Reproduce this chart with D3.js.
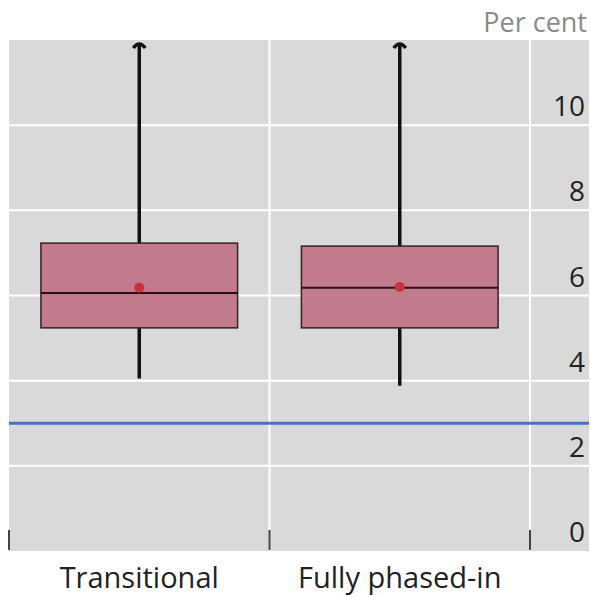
<!DOCTYPE html>
<html><head><meta charset="utf-8">
<script src="https://cdn.jsdelivr.net/npm/d3@7"></script>
<style>body{margin:0;background:#fff}svg{display:block}</style>
</head><body>
<script>
const categories = ["Transitional", "Fully phased-in"];
const q1 = [5.24, 5.24];
const median = [6.06, 6.18];
const q3 = [7.23, 7.16];
const mean = [6.18, 6.2];
const whiskerLow = [4.05, 3.88];
const whiskerHigh = [12, 12];
const refLine = 3.0;
const yTicks = [0, 2, 4, 6, 8, 10];
const yDomain = [0, 12];
const unitLabel = "Per cent";

const W = 591, H = 597;
const panel = {left: 9, right: 589, top: 40, bottom: 551};
const plotRight = 530;

const svg = d3.select("body").append("svg").attr("width", W).attr("height", H);
const font = "'Open Sans', 'Noto Sans', sans-serif";

const y = d3.scaleLinear().domain(yDomain).range([panel.bottom, panel.top]);
const x = d3.scaleBand().domain(categories).range([panel.left, plotRight]).paddingInner(0).paddingOuter(0);
const boxFrac = 0.755;

svg.append("rect").attr("x", panel.left).attr("y", panel.top)
  .attr("width", panel.right - panel.left).attr("height", panel.bottom - panel.top)
  .attr("fill", "#d9d9d9");

// horizontal gridlines
svg.append("g").selectAll("line").data(yTicks.filter(d => d > 0)).join("line")
  .attr("x1", panel.left).attr("x2", panel.right)
  .attr("y1", d => y(d)).attr("y2", d => y(d))
  .attr("stroke", "#fff").attr("stroke-width", 2);

// vertical gridlines (category boundaries)
const vlines = [x(categories[1]), plotRight];
svg.append("g").selectAll("line").data(vlines).join("line")
  .attr("x1", d => d).attr("x2", d => d)
  .attr("y1", panel.top).attr("y2", panel.bottom)
  .attr("stroke", "#fff").attr("stroke-width", 2);

// bottom ticks
const tickXs = [panel.left, x(categories[1]), plotRight];
svg.append("g").selectAll("line").data(tickXs).join("line")
  .attr("x1", d => d).attr("x2", d => d)
  .attr("y1", panel.bottom - 21).attr("y2", panel.bottom - 1)
  .attr("stroke", "#444").attr("stroke-width", 2);

// y labels
svg.append("g").selectAll("text").data(yTicks).join("text")
  .attr("x", 585).attr("y", d => y(d) - 9)
  .attr("text-anchor", "end").attr("font-family", font).attr("font-size", 28)
  .attr("fill", "#222").text(d => d);

svg.append("text").attr("x", 587).attr("y", 32).attr("text-anchor", "end")
  .attr("font-family", font).attr("font-size", 27).attr("fill", "#8a8a8a").text(unitLabel);

// reference line
svg.append("line").attr("x1", panel.left).attr("x2", panel.right)
  .attr("y1", y(refLine)).attr("y2", y(refLine))
  .attr("stroke", "#4472c4").attr("stroke-width", 3);

// boxes
categories.forEach((c, i) => {
  const cx = x(c) + x.bandwidth() / 2;
  const bw = x.bandwidth() * boxFrac;
  const g = svg.append("g");
  const topY = Math.max(y(whiskerHigh[i]), panel.top) + 3;
  g.append("line").attr("x1", cx).attr("x2", cx)
    .attr("y1", y(whiskerLow[i])).attr("y2", topY)
    .attr("stroke", "#111").attr("stroke-width", 3.5);
  g.append("path")
    .attr("d", `M${cx - 6},${topY + 5} Q${cx},${topY - 3} ${cx + 6},${topY + 5}`)
    .attr("fill", "none").attr("stroke", "#111").attr("stroke-width", 3.5);
  g.append("rect").attr("x", cx - bw / 2).attr("y", y(q3[i]))
    .attr("width", bw).attr("height", y(q1[i]) - y(q3[i]))
    .attr("fill", "#c27b8c").attr("stroke", "#3a1f25").attr("stroke-width", 1.5);
  g.append("line").attr("x1", cx - bw / 2).attr("x2", cx + bw / 2)
    .attr("y1", y(median[i])).attr("y2", y(median[i]))
    .attr("stroke", "#2a1015").attr("stroke-width", 2);
  g.append("circle").attr("cx", cx).attr("cy", y(mean[i])).attr("r", 5)
    .attr("fill", "#c8323f");
});

// category labels
svg.append("g").selectAll("text").data(categories).join("text")
  .attr("x", d => x(d) + x.bandwidth() / 2).attr("y", 588)
  .attr("text-anchor", "middle").attr("font-family", font).attr("font-size", 29)
  .attr("fill", "#222").text(d => d);
</script>
</body></html>
